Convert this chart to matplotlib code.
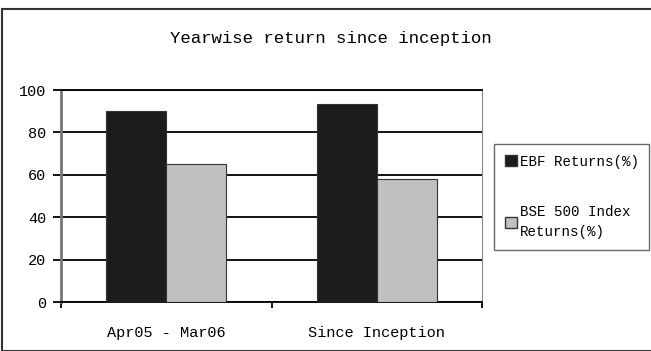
import numpy as np
import matplotlib.pyplot as plt
from matplotlib.patches import Rectangle, Patch

categories = ['Apr05 - Mar06', 'Since Inception']
ebf_returns = [90, 93.5]
bse500_returns = [65, 58]
series_names = ['EBF Returns(%)', 'BSE 500 Index\nReturns(%)']

plt.rcParams['font.family'] = ['Liberation Mono', 'DejaVu Sans']

fig = plt.figure(figsize=(6.51, 3.51), dpi=100)
# outer chart frame
fig.patches.append(Rectangle((2 / 651, 0), 1, 1 - 9 / 351, transform=fig.transFigure,
                             fill=False, edgecolor='#333333', linewidth=1.5))

ax = fig.add_axes([61 / 651, 1 - 302 / 351, (482 - 61) / 651, (302 - 90) / 351])
x = np.arange(len(categories))
w = 0.286
ax.bar(x - w / 2, ebf_returns, w, color='#1c1c1c', edgecolor='#333333', linewidth=0.8,
       zorder=3)
ax.bar(x + w / 2, bse500_returns, w, color='#c0c0c0', edgecolor='#333333', linewidth=0.8,
       zorder=3)

ax.set_xlim(-0.5, len(categories) - 0.5)
ax.set_ylim(0, 100)
ax.set_yticks(range(0, 101, 20))
ax.yaxis.grid(True, color='black', linewidth=1.3, zorder=1)
ax.set_xticks(x)
ax.set_xticklabels(categories, fontsize=11)
ax.set_xticks(np.arange(-0.5, len(categories), 1), minor=True)
ax.tick_params(axis='x', which='major', length=0, pad=17)
ax.tick_params(axis='x', which='minor', length=4, width=1.3, direction='out')
ax.tick_params(axis='y', length=6, width=1.3, labelsize=11, pad=4.5)

ax.spines['left'].set_color('#777777')
ax.spines['left'].set_linewidth(2)
ax.spines['bottom'].set_linewidth(1.3)
ax.spines['top'].set_linewidth(1.3)
ax.spines['right'].set_color('#888888')
ax.spines['right'].set_linewidth(0.8)

fig.text(331 / 651, 1 - 38 / 351, 'Yearwise return since inception', ha='center',
         va='center', fontsize=12.5)

handles = [Patch(facecolor='#1c1c1c', edgecolor='#333333'),
           Patch(facecolor='#c0c0c0', edgecolor='#333333')]
leg = fig.legend(handles, series_names, loc='upper left',
                 bbox_to_anchor=(494 / 651, 1 - 144 / 351),
                 fontsize=10.2, frameon=True, fancybox=False, edgecolor='#444444',
                 handlelength=0.85, handleheight=0.85, handletextpad=0.2, labelspacing=2.6,
                 borderpad=0.75, borderaxespad=0)
for t in leg.get_texts():
    t.set_linespacing(1.5)

fig.savefig('out.png', dpi=100)
